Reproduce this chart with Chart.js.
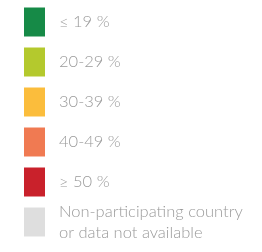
<!DOCTYPE html>
<html>
<head>
<meta charset="utf-8">
<script src="https://cdn.jsdelivr.net/npm/chart.js@4/dist/chart.umd.min.js"></script>
<style>
  html, body { margin: 0; padding: 0; background: #ffffff; }
  #wrap { width: 262px; height: 252px; }
</style>
</head>
<body>
<div id="wrap"><canvas id="legendChart"></canvas></div>
<script>
// legend classes, one swatch per class
const classLabels = ['≤ 19 %', '20-29 %', '30-39 %', '40-49 %', '≥ 50 %',
  ['Non-participating country', 'or data not available']];
const swatchValues = [1, 1, 1, 1, 1, 1];
const swatchColors = ['#168a47', '#b4c92d', '#fbbd3c', '#f07a52', '#c9212b', '#dedede'];

new Chart(document.getElementById('legendChart'), {
    type: 'bar',
    data: {
        labels: classLabels,
        datasets: [{
            data: swatchValues,
            backgroundColor: swatchColors,
            borderWidth: 0,
            categoryPercentage: 1,
            barPercentage: 0.725
        }]
    },
    options: {
        indexAxis: 'y',
        responsive: true,
        maintainAspectRatio: false,
        animation: false,
        layout: { padding: { left: 24, top: 2, bottom: 10, right: 0 } },
        plugins: { legend: { display: false }, tooltip: { enabled: false } },
        scales: {
            x: { display: false, min: 0, max: 1 },
            y: {
                position: 'right',
                grid: { display: false, drawTicks: false },
                border: { display: false },
                ticks: {
                    autoSkip: false,
                    padding: 14,
                    color: '#9a9a9a',
                    font: { family: 'Lato', size: 16.5, weight: 300, lineHeight: 1.3 }
                },
                // fixed width so the swatch column stays narrow, no extra label padding
                afterFit: (scale) => {
                    scale.width = 217;
                    scale.paddingTop = 0;
                    scale.paddingBottom = 0;
                }
            }
        }
    }
});
</script>
</body>
</html>
